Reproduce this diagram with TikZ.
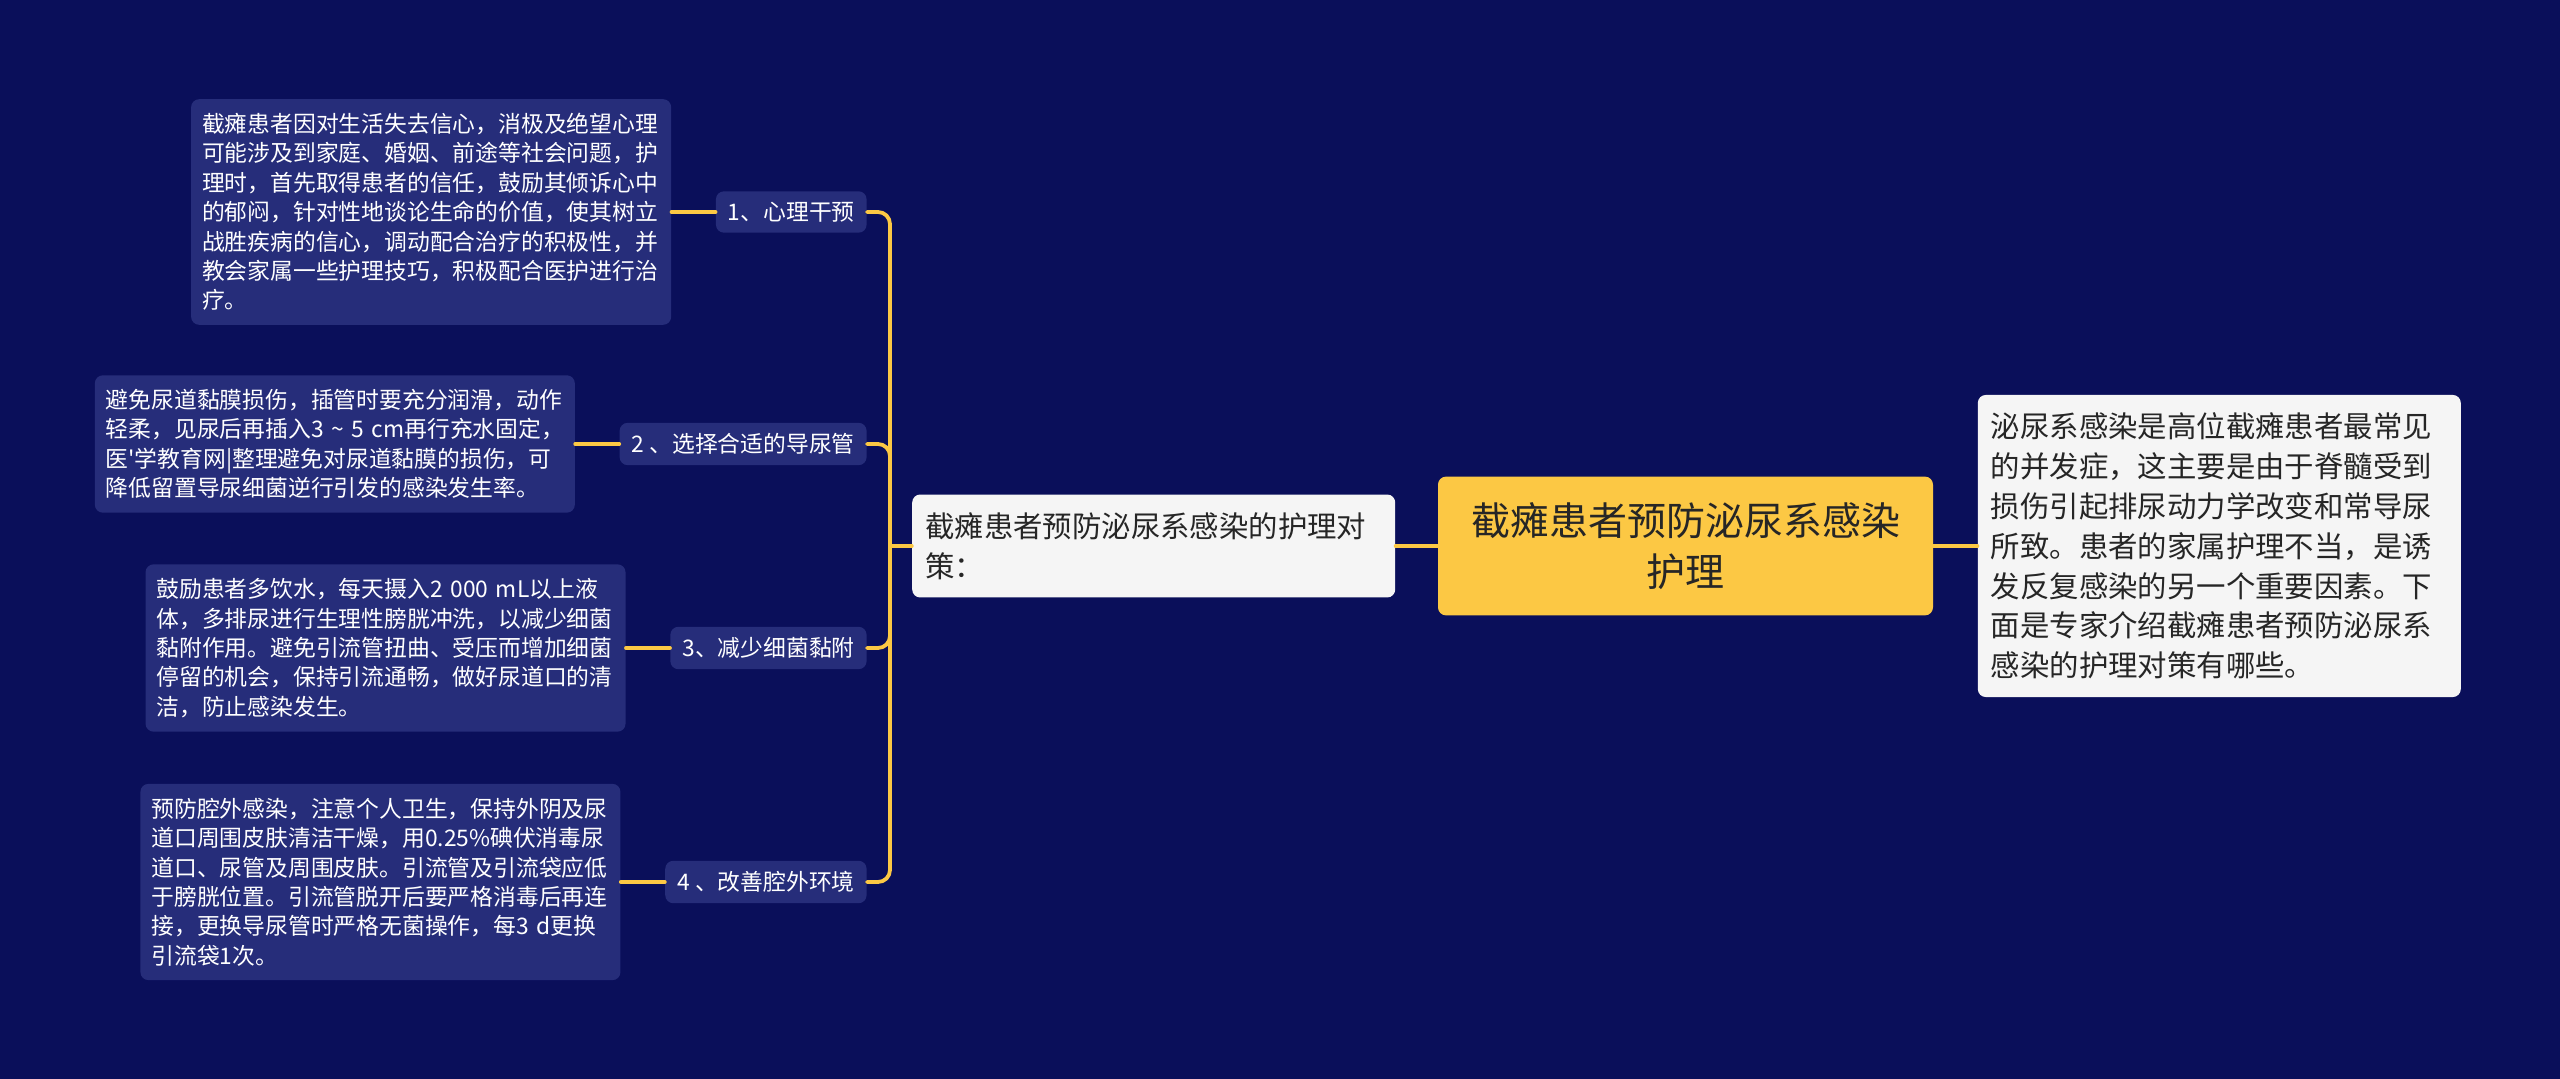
\documentclass[tikz,border=0pt]{standalone}
\usepackage{fontspec}
\newfontfamily\cjk{Noto Sans CJK SC}
\usetikzlibrary{positioning}
\definecolor{night}{HTML}{0A0F5A}
\definecolor{slab}{HTML}{262D7A}
\definecolor{amber}{HTML}{FCC844}
\definecolor{paper}{HTML}{F5F5F5}
\definecolor{inkq}{HTML}{262626}

\begin{document}
\begin{tikzpicture}[x=0.5pt,y=-0.5pt,line cap=round,line join=round,font=\cjk,
  link/.style={amber,line width=1.9pt},
  topic/.style={fill=amber,text=inkq,rounded corners=4pt,align=center,text width=225pt,
    inner xsep=11.25pt,inner ysep=13pt,font=\cjk\fontsize{19.5}{25.3}\selectfont},
  card/.style={fill=paper,text=inkq,rounded corners=4pt,align=left,text width=228.5pt,
    inner xsep=6.5pt,inner ysep=9pt,font=\cjk\fontsize{14.7}{19.9}\selectfont},
  item/.style={fill=slab,text=white,rounded corners=4pt,inner xsep=6pt,inner ysep=5.3pt,
    anchor=east,font=\cjk\fontsize{11.4}{14.7}\selectfont},
  leaf/.style={fill=slab,text=white,rounded corners=4pt,align=left,text width=229pt,
    inner xsep=5.5pt,inner ysep=7pt,font=\cjk\fontsize{11.4}{14.7}\selectfont}]
  \fill[night] (0,0) rectangle (2560,1079);

  % Centre topic with its two neighbours
  \node[topic] (root) at (1685.5,546) {截瘫患者预防泌尿系感染\\护理};
  \node[card,left=21pt of root] (sum) {截瘫患者预防泌尿系感染的护理对\\策：};
  \node[card,right=22pt of root] (desc) {泌尿系感染是高位截瘫患者最常见\\
    的并发症，这主要是由于脊髓受到\\
    损伤引起排尿动力学改变和常导尿\\
    所致。患者的家属护理不当，是诱\\
    发反复感染的另一个重要因素。下\\
    面是专家介绍截瘫患者预防泌尿系\\
    感染的护理对策有哪些。};
  \coordinate (hub) at (890,546);

  % The four measures
  \node[item] (b1) at (867,212) {1、心理干预};
  \node[item] (b2) at (867,444) {2 、选择合适的导尿管};
  \node[item] (b3) at (867,648) {3、减少细菌黏附};
  \node[item] (b4) at (867,882) {4 、改善腔外环境};

  % Their explanations
  \node[leaf,left=22pt of b1] (l1) {截瘫患者因对生活失去信心，消极及绝望心理\\
    可能涉及到家庭、婚姻、前途等社会问题，护\\
    理时，首先取得患者的信任，鼓励其倾诉心中\\
    的郁闷，针对性地谈论生命的价值，使其树立\\
    战胜疾病的信心，调动配合治疗的积极性，并\\
    教会家属一些护理技巧，积极配合医护进行治\\
    疗。};
  \node[leaf,left=22pt of b2] (l2) {避免尿道黏膜损伤，插管时要充分润滑，动作\\
    \mbox{轻柔，见尿后再插入3 \textasciitilde{} 5 cm再行充水固定，}\\
    医'学教育网|整理避免对尿道黏膜的损伤，可\\
    降低留置导尿细菌逆行引发的感染发生率。};
  \node[leaf,left=22pt of b3] (l3) {鼓励患者多饮水，每天摄入2 000 mL以上液\\
    体，多排尿进行生理性膀胱冲洗，以减少细菌\\
    黏附作用。避免引流管扭曲、受压而增加细菌\\
    停留的机会，保持引流通畅，做好尿道口的清\\
    洁，防止感染发生。};
  \node[leaf,left=22pt of b4] (l4) {预防腔外感染，注意个人卫生，保持外阴及尿\\
    道口周围皮肤清洁干燥，用0.25\%碘伏消毒尿\\
    道口、尿管及周围皮肤。引流管及引流袋应低\\
    于膀胱位置。引流管脱开后要严格消毒后再连\\
    接，更换导尿管时严格无菌操作，每3 d更换\\
    引流袋1次。};

  % Connectors
  \draw[link] (root.west) -- (sum.east);
  \draw[link] (root.east) -- (desc.west);
  \draw[link] (sum.west) -- (hub);
  \foreach \b in {b1,b2,b3,b4}
    \draw[link,rounded corners=6pt] (hub) |- (\b.east);
  \foreach \i in {1,...,4}
    \draw[link] (l\i.east) -- (b\i.west);
\end{tikzpicture}
\end{document}
